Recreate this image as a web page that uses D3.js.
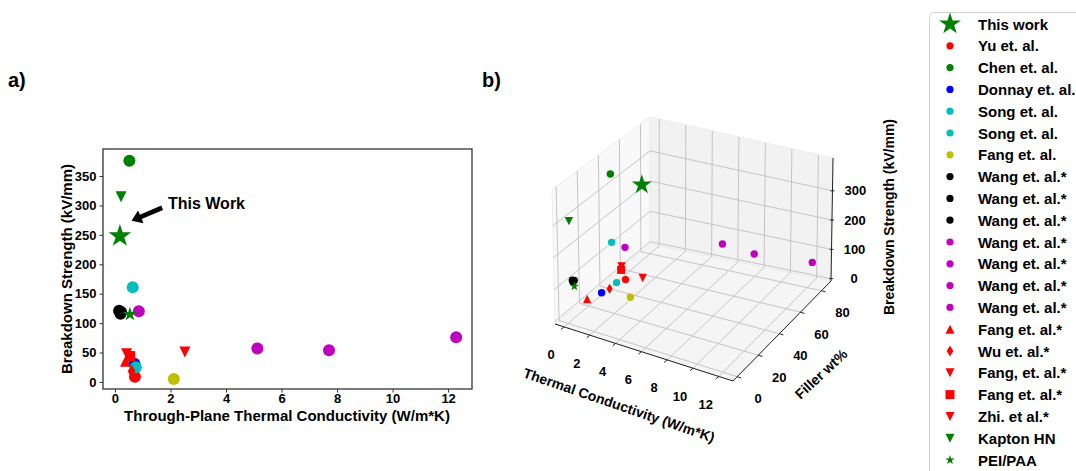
<!DOCTYPE html>
<html>
<head>
<meta charset="utf-8">
<script src="https://cdn.jsdelivr.net/npm/d3@7"></script>
<style>
  body { margin: 0; background: #fff; }
  svg { display: block; font-family: "Liberation Sans", Arial, sans-serif; font-weight: bold; }
</style>
</head>
<body>
<svg id="chart" width="1076" height="471"></svg>
<script>
// ---- data (legend order) ----
var names = ["This work", "Yu et. al.", "Chen et. al.", "Donnay et. al.", "Song et. al.", "Song et. al.",
  "Fang et. al.", "Wang et. al.*", "Wang et. al.*", "Wang et. al.*", "Wang et. al.*", "Wang et. al.*",
  "Wang et. al.*", "Wang et. al.*", "Fang et. al.*", "Wu et. al.*", "Fang, et. al.*", "Fang et. al.*",
  "Zhi. et al.*", "Kapton HN", "PEI/PAA"];
var colors = ["g", "r", "g", "b", "c", "c", "y", "k", "k", "k", "m", "m", "m", "m",
  "r", "r", "r", "r", "r", "g", "g"];
var markers = ["bigstar", "circle", "circle", "circle", "circle", "circle", "circle", "circle", "circle",
  "circle", "circle", "circle", "circle", "circle", "tri-up", "diamond", "tri-down", "square",
  "tri-down", "tri-down", "star"];
// through-plane thermal conductivity (W/m*K)
var conductivity = [0.18, 0.72, 0.52, 0.70, 0.64, 0.75, 2.12, 0.15, 0.20, 0.22, 0.86, 5.13, 7.71, 12.29,
  0.38, 0.60, 0.42, 0.55, 2.52, 0.22, 0.54];
// breakdown strength (kV/mm)
var breakdown = [248, 9, 376, 31, 161, 25, 5, 121, 116, 119, 120, 57, 54, 76,
  35, 18, 48, 44, 51, 315, 115];
// filler wt%
var fillerWt = [70, 47, 36, 24, 35, 38, 34, 3, 3, 4, 45, 85, 83, 81,
  14, 33, 47, 45, 41, 0, 0];

var tcTicks = [0, 2, 4, 6, 8, 10, 12];
var bdTicks = [0, 50, 100, 150, 200, 250, 300, 350];
var wtTicks = [0, 20, 40, 60, 80];
var bd3Ticks = [0, 100, 200, 300];

var colorMap = { r: "#ff0000", g: "#008000", b: "#0000ff", c: "#00bfbf", y: "#bfbf00", k: "#000000", m: "#bf00bf" };

function markerPath(type, r) {
  if (type === "circle") return d3.symbol(d3.symbolCircle, Math.PI * r * r)();
  if (type === "star" || type === "bigstar") return d3.symbol(d3.symbolStar, r * r / 0.8908130915292852)();
  if (type === "tri-up") return "M0," + (-r) + "L" + r + "," + r + "L" + (-r) + "," + r + "Z";
  if (type === "tri-down") return "M0," + r + "L" + r + "," + (-r) + "L" + (-r) + "," + (-r) + "Z";
  if (type === "square") return "M" + (-r) + "," + (-r) + "h" + 2 * r + "v" + 2 * r + "h" + (-2 * r) + "Z";
  if (type === "diamond") return "M0," + (-r) + "L" + 0.6 * r + ",0L0," + r + "L" + (-0.6 * r) + ",0Z";
}

var svg = d3.select("#chart");

// ================= panel a =================
var ax = { left: 103, right: 472, top: 149, bottom: 389 };
var x = d3.scaleLinear().domain([-0.43, 12.86]).range([ax.left, ax.right]);
var y = d3.scaleLinear().domain([-12, 396]).range([ax.bottom, ax.top]);

var ga = svg.append("g");
ga.append("g").attr("transform", "translate(0," + ax.bottom + ")")
  .call(d3.axisBottom(x).tickValues(tcTicks).tickSize(3.5).tickPadding(1).tickFormat(d3.format("d")))
  .call(function(g) { g.select(".domain").remove(); })
  .selectAll("text").attr("font-size", 13).attr("fill", "#000");
ga.append("g").attr("transform", "translate(" + ax.left + ",0)")
  .call(d3.axisLeft(y).tickValues(bdTicks).tickSize(3.5).tickPadding(3))
  .call(function(g) { g.select(".domain").remove(); })
  .selectAll("text").attr("font-size", 13).attr("fill", "#000");
ga.selectAll(".tick line").attr("stroke", "#333");
ga.append("rect").attr("x", ax.left).attr("y", ax.top)
  .attr("width", ax.right - ax.left).attr("height", ax.bottom - ax.top)
  .attr("fill", "none").attr("stroke", "#333").attr("stroke-width", 1.3);

ga.append("text").attr("x", 287).attr("y", 415).attr("text-anchor", "middle")
  .attr("dominant-baseline", "central").attr("font-size", 15)
  .text("Through-Plane Thermal Conductivity (W/m*K)");
ga.append("text").attr("transform", "translate(66,269) rotate(-90)").attr("text-anchor", "middle")
  .attr("dominant-baseline", "central").attr("font-size", 15)
  .text("Breakdown Strength (kV/mm)");

var sizeA = { circle: 6, bigstar: 12, star: 7.5, "tri-up": 5.5, "tri-down": 5.5, square: 5, diamond: 6.5 };
ga.append("g").selectAll("path").data(d3.range(names.length)).join("path")
  .attr("transform", function(i) { return "translate(" + x(conductivity[i]) + "," + y(breakdown[i]) + ")"; })
  .attr("d", function(i) { return markerPath(markers[i], sizeA[markers[i]]); })
  .attr("fill", function(i) { return colorMap[colors[i]]; });

// annotation arrow
var tail = [x(1.70), y(296)], tip = [x(0.60), y(274)];
var dx = tip[0] - tail[0], dy = tip[1] - tail[1], L = Math.hypot(dx, dy);
var ux = dx / L, uy = dy / L, nx = -uy, ny = ux, hl = 10, sw = 2.4, hw = 7;
var bx = tip[0] - ux * hl, by = tip[1] - uy * hl;
ga.append("path").attr("fill", "#000").attr("d",
  "M" + (tail[0] + nx * sw) + "," + (tail[1] + ny * sw) +
  "L" + (bx + nx * sw) + "," + (by + ny * sw) +
  "L" + (bx + nx * hw) + "," + (by + ny * hw) +
  "L" + tip[0] + "," + tip[1] +
  "L" + (bx - nx * hw) + "," + (by - ny * hw) +
  "L" + (bx - nx * sw) + "," + (by - ny * sw) +
  "L" + (tail[0] - nx * sw) + "," + (tail[1] - ny * sw) + "Z");
ga.append("text").attr("x", x(1.91)).attr("y", y(304)).attr("dominant-baseline", "central")
  .attr("font-size", 16).text("This Work");

svg.append("text").attr("x", 8).attr("y", 80).attr("dominant-baseline", "central")
  .attr("font-size", 20).text("a)");
svg.append("text").attr("x", 482).attr("y", 80).attr("dominant-baseline", "central")
  .attr("font-size", 20).text("b)");

// ================= panel b (3D) =================
// screen corners of the 3D box, [x][y][z] index (0 = min, 1 = max)
var C = {
  "000": [555, 324], "100": [733, 381], "110": [831, 281], "010": [650, 244],
  "001": [552, 190], "101": [733, 240], "111": [833, 158], "011": [650, 117]
};
var xd = [-0.7, 13.1], yd = [-4, 89], zd = [-8, 412];
var u3 = d3.scaleLinear().domain(xd).range([0, 1]);
var v3 = d3.scaleLinear().domain(yd).range([0, 1]);
var w3 = d3.scaleLinear().domain(zd).range([0, 1]);
function lerp(a, b, t) { return [a[0] + (b[0] - a[0]) * t, a[1] + (b[1] - a[1]) * t]; }
function proj(px, py, pz) {
  var u = u3(px), v = v3(py), w = w3(pz);
  var bot = lerp(lerp(C["000"], C["100"], u), lerp(C["010"], C["110"], u), v);
  var top = lerp(lerp(C["001"], C["101"], u), lerp(C["011"], C["111"], u), v);
  return lerp(bot, top, w);
}
function poly(pts) { return "M" + pts.map(function(p) { return p.join(","); }).join("L") + "Z"; }
function seg(g, a, b, col, w) {
  g.append("line").attr("x1", a[0]).attr("y1", a[1]).attr("x2", b[0]).attr("y2", b[1])
    .attr("stroke", col).attr("stroke-width", w);
}

var gb = svg.append("g");
// panes
gb.append("path").attr("d", poly([proj(xd[0], yd[0], zd[0]), proj(xd[0], yd[1], zd[0]), proj(xd[0], yd[1], zd[1]), proj(xd[0], yd[0], zd[1])]))
  .attr("fill", "#f9f9f9").attr("stroke", "#ececec");
gb.append("path").attr("d", poly([proj(xd[0], yd[1], zd[0]), proj(xd[1], yd[1], zd[0]), proj(xd[1], yd[1], zd[1]), proj(xd[0], yd[1], zd[1])]))
  .attr("fill", "#f2f2f2").attr("stroke", "#ececec");
gb.append("path").attr("d", poly([proj(xd[0], yd[0], zd[0]), proj(xd[1], yd[0], zd[0]), proj(xd[1], yd[1], zd[0]), proj(xd[0], yd[1], zd[0])]))
  .attr("fill", "#f5f5f5").attr("stroke", "#ececec");

var gridCol = "#c4c4c4";
var grid = gb.append("g");
tcTicks.forEach(function(t) {
  seg(grid, proj(t, yd[0], zd[0]), proj(t, yd[1], zd[0]), gridCol, 1);
  seg(grid, proj(t, yd[1], zd[0]), proj(t, yd[1], zd[1]), gridCol, 1);
});
wtTicks.forEach(function(t) {
  seg(grid, proj(xd[0], t, zd[0]), proj(xd[1], t, zd[0]), gridCol, 1);
  seg(grid, proj(xd[0], t, zd[0]), proj(xd[0], t, zd[1]), gridCol, 1);
});
bd3Ticks.forEach(function(t) {
  seg(grid, proj(xd[0], yd[0], t), proj(xd[0], yd[1], t), gridCol, 1);
  seg(grid, proj(xd[0], yd[1], t), proj(xd[1], yd[1], t), gridCol, 1);
});

// axis lines
var axCol = "#222";
seg(gb, proj(xd[0], yd[0], zd[0]), proj(xd[1], yd[0], zd[0]), axCol, 1);
seg(gb, proj(xd[1], yd[0], zd[0]), proj(xd[1], yd[1], zd[0]), axCol, 1);
seg(gb, proj(xd[1], yd[1], zd[0]), proj(xd[1], yd[1], zd[1]), axCol, 1);

tcTicks.forEach(function(t) {
  var p = proj(t, yd[0], zd[0]);
  seg(gb, p, [p[0] - 3, p[1] + 2.5], axCol, 1);
  gb.append("text").attr("x", p[0] - 13).attr("y", p[1] + 28).attr("text-anchor", "middle")
    .attr("dominant-baseline", "central").attr("font-size", 13).text(t);
});
wtTicks.forEach(function(t) {
  var p = proj(xd[1], t, zd[0]);
  seg(gb, p, [p[0] + 4, p[1] + 1.3], axCol, 1);
  gb.append("text").attr("x", p[0] + 21).attr("y", p[1] + 22).attr("text-anchor", "middle")
    .attr("dominant-baseline", "central").attr("font-size", 13).text(t);
});
bd3Ticks.forEach(function(t) {
  var p = proj(xd[1], yd[1], t);
  seg(gb, [p[0] - 2, p[1]], [p[0] + 2, p[1]], axCol, 1);
  gb.append("text").attr("x", p[0] + 23).attr("y", p[1]).attr("text-anchor", "middle")
    .attr("dominant-baseline", "central").attr("font-size", 13).text(t);
});
gb.append("text").attr("transform", "translate(619,405) rotate(19)").attr("text-anchor", "middle")
  .attr("dominant-baseline", "central").attr("font-size", 14).text("Thermal Conductivity (W/m*K)");
gb.append("text").attr("transform", "translate(821,374) rotate(-43)").attr("text-anchor", "middle")
  .attr("dominant-baseline", "central").attr("font-size", 14).text("Filler wt%");
gb.append("text").attr("transform", "translate(889,217) rotate(-90)").attr("text-anchor", "middle")
  .attr("dominant-baseline", "central").attr("font-size", 14).text("Breakdown Strength (kV/mm)");

var sizeB = { circle: 3.7, bigstar: 10.5, star: 5, "tri-up": 4.2, "tri-down": 4.2, square: 4, diamond: 5 };
gb.append("g").selectAll("path").data(d3.range(names.length)).join("path")
  .attr("transform", function(i) {
    var p = proj(conductivity[i], fillerWt[i], breakdown[i]);
    return "translate(" + p[0] + "," + p[1] + ")";
  })
  .attr("d", function(i) { return markerPath(markers[i], sizeB[markers[i]]); })
  .attr("fill", function(i) { return colorMap[colors[i]]; });

// ================= legend =================
var lg = svg.append("g");
lg.append("rect").attr("x", 929.5).attr("y", 12.5).attr("width", 200).attr("height", 500).attr("rx", 4)
  .attr("fill", "#fff").attr("stroke", "#d4d4d4");
var ly = d3.scaleLinear().domain([0, names.length - 1]).range([24, 460]);
var sizeL = { circle: 3.6, bigstar: 11.5, star: 5, "tri-up": 4.5, "tri-down": 4.5, square: 4.5, diamond: 5.5 };
var row = lg.selectAll("g.row").data(d3.range(names.length)).join("g").attr("class", "row")
  .attr("transform", function(i) { return "translate(0," + ly(i) + ")"; });
row.append("path").attr("transform", "translate(950,0)")
  .attr("d", function(i) { return markerPath(markers[i], sizeL[markers[i]]); })
  .attr("fill", function(i) { return colorMap[colors[i]]; });
row.append("text").attr("x", 978).attr("dominant-baseline", "central").attr("font-size", 15)
  .text(function(i) { return names[i]; });
</script>
</body>
</html>
